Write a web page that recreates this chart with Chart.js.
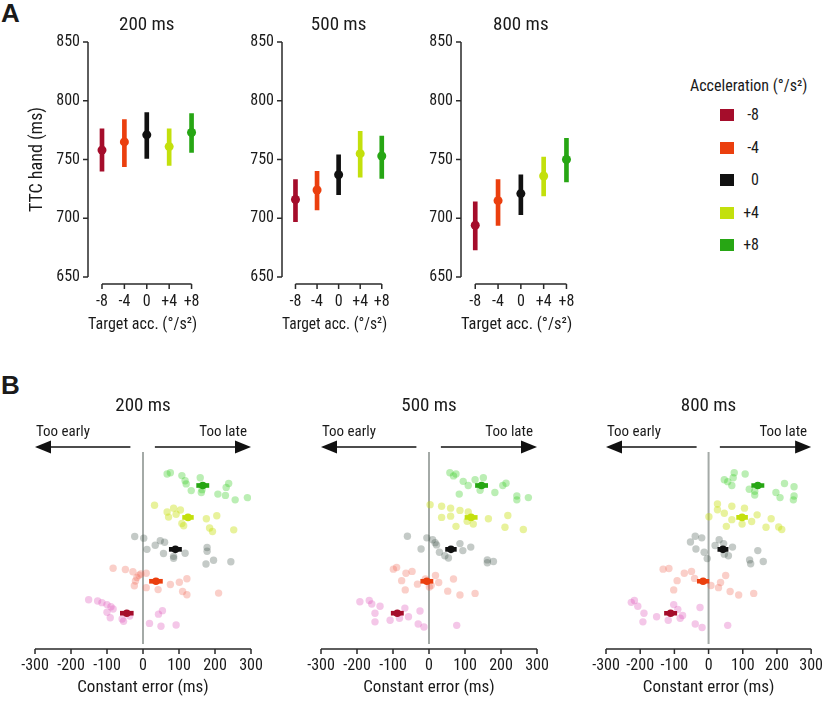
<!DOCTYPE html>
<html>
<head>
<meta charset="utf-8">
<script src="https://cdn.jsdelivr.net/npm/chart.js@4.4.1/dist/chart.umd.min.js"></script>
<style>
body { margin: 0; background: #fff; }
#fig { position: relative; width: 834px; height: 702px; overflow: hidden;
       font-family: 'Roboto Condensed', 'Liberation Sans', sans-serif; color: #1a1a1a; }
#fig canvas { position: absolute; }
.txt { position: absolute; white-space: nowrap; line-height: 1; }
.letter { font-family: 'Liberation Sans', sans-serif; font-weight: bold; font-size: 26px; }
.ttl { font-size: 19px; transform: translate(-50%, -50%); }
.note { font-size: 15px; transform: translateY(-50%); }
.sw { position: absolute; width: 14px; height: 12px; }
</style>
</head>
<body>
<div id="fig">
  <div class="txt letter" style="left:1px;top:0px">A</div>
  <div class="txt letter" style="left:1px;top:372px">B</div>
  <canvas id="a200" width="215" height="340" style="left:0;top:0"></canvas>
  <canvas id="a500" width="190" height="340" style="left:215px;top:0"></canvas>
  <canvas id="a800" width="185" height="340" style="left:405px;top:0"></canvas>
  <canvas id="b200" width="286" height="362" style="left:0;top:340px"></canvas>
  <canvas id="b500" width="286" height="362" style="left:286px;top:340px"></canvas>
  <canvas id="b800" width="262" height="362" style="left:572px;top:340px"></canvas>
</div>
<script>
// acceleration conditions
const accValues = [-8, -4, 0, 4, 8];
const accLabels = ['-8', '-4', '0', '+4', '+8'];
const accColors = ['#a50d2b', '#eb3f0e', '#111111', '#c3e00c', '#27a614'];
const dotColors = ['rgba(220,80,185,0.32)', 'rgba(240,95,75,0.30)', 'rgba(60,80,70,0.30)',
                   'rgba(200,225,20,0.42)', 'rgba(60,205,40,0.35)'];
const durations = ['200 ms', '500 ms', '800 ms'];

// Panel A: TTC hand (ms), mean and interval
const ttc200 = [758, 765, 771, 761, 773];
const ttc200Lo = [740, 744, 751, 745, 756];
const ttc200Hi = [776, 784, 790, 776, 789];
const ttc500 = [716, 724, 737, 755, 753];
const ttc500Lo = [697, 707, 720, 735, 734];
const ttc500Hi = [733, 740, 754, 774, 770];
const ttc800 = [694, 715, 721, 736, 750];
const ttc800Lo = [673, 694, 703, 719, 731];
const ttc800Hi = [714, 733, 737, 752, 768];

// Panel B: constant error (ms) per participant, [error, vertical jitter]
const ce200m8 = [[-151,0.42],[-126,0.38],[-114,0.33],[-100,0.27],[-89,0.2],[-83,0.13],[-100,0.03],[-91,-0.14],[-58,-0.18],[-54,-0.25],[-37,-0.09],[54,0.08],[43,-0.03],[18,-0.32],[50,-0.41],[92,-0.37]];
const ce200m4 = [[-83,0.41],[-49,0.37],[-28,0.30],[-6,0.23],[-11,0.19],[-17,0.12],[9,0.25],[-21,0.01],[-24,-0.14],[9,-0.2],[42,-0.26],[76,-0.1],[101,-0.03],[122,0.08],[110,-0.32],[122,-0.42],[210,-0.37]];
const ce200z = [[-23,0.40],[2,0.35],[34,0.13],[48,0.27],[60,0.22],[11,0],[57,-0.13],[85,-0.22],[85,-0.28],[117,-0.12],[178,0.06],[178,-0.06],[196,-0.34],[175,-0.46],[244,-0.39]];
const ce200p4 = [[32,0.38],[67,0.17],[85,0.29],[104,0.23],[71,0.01],[92,0.1],[108,-0.19],[113,-0.26],[176,-0.04],[205,0.05],[185,-0.33],[193,-0.44],[252,-0.39]];
const ce200p8 = [[67,0.36],[76,0.40],[108,0.31],[117,0.15],[120,0.05],[159,0.24],[164,-0.13],[162,-0.22],[134,-0.16],[238,0.06],[231,-0.06],[208,-0.27],[229,-0.31],[256,-0.45],[290,-0.38]];
const ce200Mean = [-45, 36, 90, 125, 166];
const ce200Err = [18, 18, 17, 15, 17];

const ce500m8 = [[-192,0.36],[-166,0.4],[-159,0.29],[-136,0.22],[-150,0],[-150,-0.27],[-108,-0.22],[-82,-0.16],[-67,0.16],[-57,-0.11],[-25,0.07],[-30,-0.34],[-14,-0.43],[77,-0.38]];
const ce500m4 = [[-99,0.38],[-90,0.43],[-64,0.25],[-47,0.31],[-76,0.02],[-32,-0.09],[-10,0.07],[18,0.18],[27,-0.04],[1,-0.18],[6,-0.13],[-66,-0.27],[68,0.07],[52,-0.31],[86,-0.43],[128,-0.38]];
const ce500z = [[-60,0.41],[-6,0.36],[10,0.30],[17,0.21],[21,0.14],[-22,0.01],[86,0.18],[116,0.07],[94,-0.04],[29,-0.09],[44,-0.2],[54,-0.27],[162,-0.33],[162,-0.42],[179,-0.38]];
const ce500p4 = [[3,0.4],[35,0.35],[60,0.29],[86,0.22],[109,0.17],[35,0],[60,0.04],[123,-0.21],[75,-0.28],[165,-0.04],[219,0.06],[211,-0.31],[262,-0.38],[106,-0.12]];
const ce500p8 = [[58,0.40],[68,0.30],[75,0.36],[95,0.13],[109,0],[128,0.18],[151,0.24],[142,-0.15],[84,-0.27],[183,-0.22],[205,0],[214,0.07],[244,-0.33],[244,-0.45],[276,-0.38]];
const ce500Mean = [-88, -6, 61, 117, 146];
const ce500Err = [17, 17, 15, 17, 17];

const ce800m8 = [[-226,0.34],[-217,0.4],[-207,0.22],[-189,0],[-192,-0.27],[-152,-0.11],[-118,-0.22],[-102,0.27],[-90,0.12],[-83,-0.16],[-76,-0.07],[-25,0.18],[-39,-0.34],[-19,-0.45],[56,-0.38]];
const ce800m4 = [[-133,0.38],[-116,0.4],[-71,0.25],[-50,0.31],[-92,0.02],[-102,-0.27],[-41,0.09],[7,-0.13],[29,-0.2],[35,-0.04],[50,0.18],[63,-0.32],[88,-0.43],[132,-0.38]];
const ce800z = [[-39,0.41],[-20,0.36],[-53,0.23],[-37,0.01],[-13,-0.09],[-4,-0.29],[31,0.3],[44,0.18],[19,0.12],[70,0.07],[46,-0.15],[58,-0.2],[144,-0.04],[120,-0.33],[123,-0.45],[160,-0.38]];
const ce800p4 = [[26,0.42],[68,0.35],[26,0.24],[46,0.13],[105,0.29],[1,0.02],[68,-0.07],[98,-0.21],[52,-0.28],[142,0.08],[126,-0.13],[183,-0.04],[168,-0.31],[205,-0.3],[214,-0.38]];
const ce800p8 = [[75,0.4],[107,0.36],[72,0.24],[46,0.18],[56,0.12],[68,0],[119,-0.12],[135,-0.18],[135,-0.3],[222,0.06],[250,-0.04],[197,-0.22],[209,-0.38],[250,-0.33],[248,-0.45]];
const ce800Mean = [-111, -16, 42, 98, 144];
const ce800Err = [18, 17, 15, 16, 18];

// row of each acceleration in panel B (-8 at the bottom)
const rowPos = [1, 2, 3, 4, 5];

Chart.defaults.font.family = "'Roboto Condensed', 'Liberation Sans', sans-serif";
Chart.defaults.color = '#1a1a1a';

// trimmed axis lines, zero line and the early/late arrows
const axisLines = {
	id: 'axisLines',
	defaults: { xGap: 7, ySpine: false, zero: false, arrows: false },
	beforeDatasetsDraw(chart, args, o) {
		if (!o.zero) return;
		const {ctx, chartArea: ca, scales: {x}} = chart;
		const px = x.getPixelForValue(0);
		ctx.save();
		ctx.strokeStyle = '#a4aaa7';
		ctx.lineWidth = 2;
		ctx.beginPath();
		ctx.moveTo(px, ca.top);
		ctx.lineTo(px, ca.bottom - 1);
		ctx.stroke();
		ctx.restore();
	},
	afterDraw(chart, args, o) {
		const {ctx, chartArea: ca, scales: {x, y}} = chart;
		ctx.save();
		ctx.strokeStyle = '#2a2a2a';
		ctx.lineWidth = 1.5;
		ctx.beginPath();
		const xt = x.ticks.map(t => t.value);
		const xs = ca.bottom + o.xGap;
		ctx.moveTo(x.getPixelForValue(xt[0]), xs);
		ctx.lineTo(x.getPixelForValue(xt[xt.length - 1]), xs);
		xt.forEach(v => {
			const px = x.getPixelForValue(v);
			ctx.moveTo(px, xs);
			ctx.lineTo(px, xs + 5);
		});
		if (o.ySpine) {
			const yt = y.ticks.map(t => t.value);
			ctx.moveTo(ca.left, y.getPixelForValue(yt[0]));
			ctx.lineTo(ca.left, y.getPixelForValue(yt[yt.length - 1]));
			yt.forEach(v => {
				const py = y.getPixelForValue(v);
				ctx.moveTo(ca.left, py);
				ctx.lineTo(ca.left - 5, py);
			});
		}
		ctx.stroke();
		if (o.arrows) {
			const ay = ca.top - 5;
			const drawArrow = (from, to) => {
				const x0 = x.getPixelForValue(from), x1 = x.getPixelForValue(to);
				const dir = Math.sign(x1 - x0);
				ctx.fillStyle = '#111';
				ctx.strokeStyle = '#111';
				ctx.lineWidth = 1.6;
				ctx.beginPath();
				ctx.moveTo(x0, ay);
				ctx.lineTo(x1 - dir * 10, ay);
				ctx.stroke();
				ctx.beginPath();
				ctx.moveTo(x1, ay);
				ctx.lineTo(x1 - dir * 16, ay - 6.5);
				ctx.lineTo(x1 - dir * 16, ay + 6.5);
				ctx.closePath();
				ctx.fill();
			};
			drawArrow(-35, -300);
			drawArrow(33, 300);
		}
		ctx.restore();
	}
};

function makeTTC(id, mean, lo, hi, yWidth, padRight, showTitle) {
	return new Chart(document.getElementById(id), {
		type: 'bar',
		data: {
			datasets: [
				{
					type: 'scatter',
					data: accValues.map((a, i) => ({x: a, y: mean[i]})),
					pointRadius: 4.5,
					pointBackgroundColor: accColors,
					pointBorderWidth: 0
				},
				{
					type: 'bar',
					data: accValues.map((a, i) => ({x: a, y: [lo[i], hi[i]]})),
					backgroundColor: accColors,
					barThickness: 4,
					borderWidth: 0
				}
			]
		},
		options: {
			responsive: false,
			animation: false,
			events: [],
			layout: {padding: {left: 0, right: padRight, top: 42, bottom: 0}},
			plugins: {
				legend: {display: false},
				tooltip: {enabled: false},
				axisLines: {xGap: 7, ySpine: true}
			},
			scales: {
				x: {
					type: 'linear', min: -10.5, max: 9, offset: false,
					grid: {display: false, drawTicks: false},
					border: {display: false},
					afterBuildTicks: s => { s.ticks = accValues.map(v => ({value: v})); },
					afterFit: s => { s.height = 63; },
					ticks: {padding: 15, font: {size: 16}, autoSkip: false, maxRotation: 0,
						callback: v => accLabels[accValues.indexOf(v)]},
					title: {display: true, text: 'Target acc. (°/s²)', font: {size: 17}, padding: {top: 0, bottom: 5}}
				},
				y: {
					type: 'linear', min: 650, max: 850,
					grid: {display: false, drawTicks: false},
					border: {display: false},
					afterFit: s => { s.width = yWidth; },
					ticks: {stepSize: 50, padding: 8, font: {size: 16}},
					title: {display: showTitle, text: 'TTC hand (ms)', font: {size: 18}, padding: {top: 27, bottom: 0}}
				}
			}
		},
		plugins: [axisLines]
	});
}

function makeCE(id, groups, mean, err, padLeft, padRight) {
	const dotSets = groups.map((g, i) => ({
		type: 'scatter',
		data: g.map(p => ({x: p[0], y: rowPos[i] + p[1]})),
		pointRadius: 3.7,
		pointBackgroundColor: dotColors[i],
		pointBorderWidth: 0
	}));
	return new Chart(document.getElementById(id), {
		type: 'scatter',
		data: {
			datasets: [
				{
					type: 'scatter',
					data: mean.map((m, i) => ({x: m, y: rowPos[i]})),
					pointRadius: 3.8,
					pointBackgroundColor: accColors,
					pointBorderWidth: 0
				},
				{
					type: 'bar',
					indexAxis: 'y',
					data: mean.map((m, i) => ({y: rowPos[i], x: [m - err[i], m + err[i]]})),
					backgroundColor: accColors,
					barThickness: 4,
					borderWidth: 0
				}
			].concat(dotSets)
		},
		options: {
			responsive: false,
			animation: false,
			events: [],
			layout: {padding: {left: padLeft, right: padRight, top: 112, bottom: 0}},
			plugins: {
				legend: {display: false},
				tooltip: {enabled: false},
				axisLines: {xGap: 4, zero: true, arrows: true}
			},
			scales: {
				x: {
					type: 'linear', min: -300, max: 300, offset: false,
					grid: {display: false, drawTicks: false},
					border: {display: false},
					afterFit: s => { s.height = 57; },
					ticks: {stepSize: 100, padding: 11, font: {size: 16}, autoSkip: false, maxRotation: 0,
						callback: v => String(v)},
					title: {display: true, text: 'Constant error (ms)', font: {size: 17}, padding: {top: 0, bottom: 4}}
				},
				y: {type: 'linear', min: 0.436, max: 5.617, display: false}
			}
		},
		plugins: [axisLines]
	});
}

const fig = document.getElementById('fig');
function addText(cls, text, style) {
	const d = document.createElement('div');
	d.className = 'txt ' + cls;
	d.textContent = text;
	Object.assign(d.style, style);
	fig.appendChild(d);
	return d;
}

const aCharts = [
	makeTTC('a200', ttc200, ttc200Lo, ttc200Hi, 88, 10, true),
	makeTTC('a500', ttc500, ttc500Lo, ttc500Hi, 67, 6, false),
	makeTTC('a800', ttc800, ttc800Lo, ttc800Hi, 56, 12, false)
];
const bCharts = [
	makeCE('b200', [ce200m8, ce200m4, ce200z, ce200p4, ce200p8], ce200Mean, ce200Err, 35, 35),
	makeCE('b500', [ce500m8, ce500m4, ce500z, ce500p4, ce500p8], ce500Mean, ce500Err, 35, 35),
	makeCE('b800', [ce800m8, ce800m4, ce800z, ce800p4, ce800p8], ce800Mean, ce800Err, 34, 12)
];

// subplot titles and early/late labels placed from each chart's scales
aCharts.forEach((c, i) => {
	const left = parseFloat(c.canvas.style.left) || 0;
	const cx = left + c.scales.x.getPixelForValue(0);
	addText('ttl', durations[i], {left: cx + 'px', top: '23px'});
});
bCharts.forEach((c, i) => {
	const left = parseFloat(c.canvas.style.left) || 0;
	const x = c.scales.x;
	addText('ttl', durations[i], {left: (left + x.getPixelForValue(0)) + 'px', top: '404px'});
	addText('note', 'Too early', {left: (left + x.getPixelForValue(-300) + 1) + 'px', top: '431px'});
	const late = addText('note', 'Too late', {top: '431px'});
	late.style.right = (834 - (left + x.getPixelForValue(300) - 4)) + 'px';
});

// shared legend
addText('', 'Acceleration (°/s²)', {left: '690px', top: '78px', fontSize: '16px'});
accLabels.forEach((lab, i) => {
	const cy = 115 + i * 32.5;
	const sw = document.createElement('div');
	sw.className = 'sw';
	sw.style.left = '720px';
	sw.style.top = (cy - 6) + 'px';
	sw.style.background = accColors[i];
	fig.appendChild(sw);
	addText('note', lab, {left: '735px', width: '24px', textAlign: 'right', top: cy + 'px', fontSize: '16px'});
});
</script>
</body>
</html>
